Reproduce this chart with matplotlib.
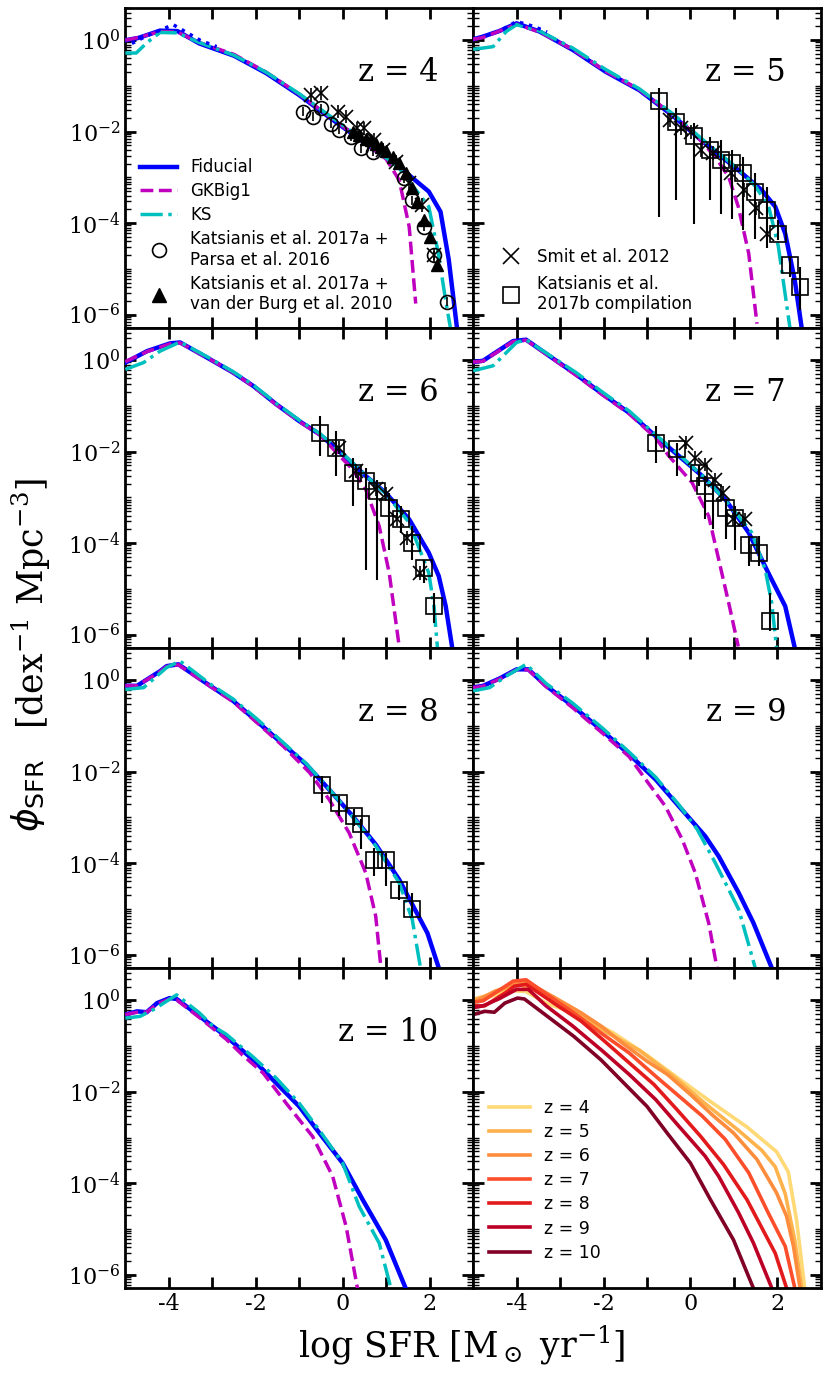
import numpy as np
import matplotlib
matplotlib.use("Agg")
import matplotlib.pyplot as plt
from matplotlib.lines import Line2D
from matplotlib.ticker import FixedLocator, LogFormatterMathtext, NullFormatter, FormatStrFormatter

plt.rcParams['font.family'] = 'DejaVu Serif'
plt.rcParams['mathtext.fontset'] = 'dejavuserif'
plt.rcParams['axes.unicode_minus'] = False

# ---- data: log10 SFR, log10 phi ----
fid4_x = [-5.0, -4.7, -4.2, -3.8, -3.3, -2.5, -1.76, -1.0, -0.23, 0.53, 1.3, 1.98, 2.25, 2.44, 2.63]
fid4_y = [0.0, 0.05, 0.21, 0.2, -0.07, -0.34, -0.72, -1.2, -1.74, -2.26, -2.77, -3.31, -3.75, -4.8, -6.3]
gk4_x = [-5.0, -4.7, -4.2, -3.8, -3.3, -2.5, -1.76, -1.0, -0.23, 0.53, 1.0, 1.3, 1.53, 1.68]
gk4_y = [0.0, 0.06, 0.19, 0.18, -0.05, -0.31, -0.70, -1.18, -1.72, -2.25, -2.6, -3.06, -4.08, -5.76]
ks4_x = [-5.0, -4.75, -4.5, -4.2, -3.8, -3.3, -2.5, -1.76, -1.0, -0.23, 0.53, 1.3, 1.98, 2.2, 2.37, 2.48]
ks4_y = [-0.28, -0.28, -0.05, 0.17, 0.16, -0.05, -0.33, -0.7, -1.17, -1.70, -2.22, -2.8, -3.64, -4.66, -5.7, -6.3]
dot4_x = [-4.85, -4.5, -3.9, -3.28, -2.9]
dot4_y = [-0.07, 0.1, 0.34, 0.0, -0.14]

fid5_x = [-5.0, -4.77, -4.4, -4.0, -3.47, -2.71, -1.95, -1.18, -0.42, 0.34, 1.1, 1.64, 1.95, 2.18, 2.4, 2.56]
fid5_y = [0.02, 0.08, 0.2, 0.37, 0.19, -0.21, -0.69, -1.09, -1.64, -2.26, -2.84, -3.28, -3.64, -4.23, -5.25, -6.3]
gk5_x = [-5.0, -4.77, -4.4, -4.0, -3.47, -2.71, -1.95, -1.18, -0.42, 0.1, 0.57, 0.88, 1.1, 1.34, 1.53]
gk5_y = [0.02, 0.06, 0.2, 0.35, 0.18, -0.2, -0.68, -1.08, -1.62, -2.05, -2.55, -2.99, -3.64, -4.66, -6.2]
ks5_x = [-5.0, -4.54, -4.24, -4.0, -3.47, -2.71, -1.95, -1.18, -0.42, 0.34, 1.1, 1.5, 1.8, 2.02, 2.2, 2.29]
ks5_y = [-0.2, -0.14, 0.19, 0.34, 0.2, -0.17, -0.64, -1.06, -1.6, -2.22, -2.82, -3.2, -3.64, -4.5, -5.7, -6.3]
dot5_x = [-4.3, -4.0, -3.6, -3.3]
dot5_y = [0.25, 0.41, 0.30, 0.18]

fid6_x = [-5.0, -4.5, -3.97, -3.74, -3.05, -2.52, -2.06, -1.53, -1.0, -0.53, 0.0, 0.53, 0.99, 1.53, 1.98, 2.21, 2.37, 2.52]
fid6_y = [-0.05, 0.2, 0.37, 0.39, 0.02, -0.27, -0.56, -0.96, -1.33, -1.62, -2.06, -2.53, -2.9, -3.48, -4.21, -4.72, -5.38, -6.29]
gk6_x = [-5.0, -4.5, -3.97, -3.74, -3.05, -2.52, -2.06, -1.53, -1.0, -0.53, 0.23, 0.53, 0.84, 1.07, 1.3]
gk6_y = [-0.03, 0.19, 0.36, 0.38, 0.02, -0.27, -0.57, -0.97, -1.34, -1.63, -2.39, -2.82, -3.63, -4.65, -6.26]
ks6_x = [-5.0, -4.58, -4.2, -3.74, -3.05, -2.52, -2.06, -1.53, -1.0, -0.53, 0.0, 0.53, 0.99, 1.53, 1.98, 2.1, 2.18]
ks6_y = [-0.2, -0.05, 0.2, 0.40, 0.04, -0.25, -0.54, -0.94, -1.31, -1.6, -2.04, -2.52, -2.92, -3.55, -4.65, -5.38, -6.29]

fid7_x = [-5.0, -4.77, -4.08, -3.78, -3.24, -2.63, -2.02, -1.41, -0.8, -0.27, 0.27, 0.8, 1.34, 1.79, 2.18, 2.4]
fid7_y = [-0.04, -0.01, 0.42, 0.45, 0.09, -0.31, -0.74, -1.15, -1.66, -2.09, -2.53, -3.04, -3.77, -4.65, -5.38, -6.29]
gk7_x = [-5.0, -4.77, -4.08, -3.78, -3.24, -2.63, -2.02, -1.41, -0.8, -0.5, 0.04, 0.42, 0.65, 0.88, 1.1]
gk7_y = [-0.04, -0.02, 0.41, 0.44, 0.08, -0.33, -0.76, -1.17, -1.70, -2.09, -2.68, -3.41, -4.36, -5.31, -6.26]
ks7_x = [-5.0, -4.54, -4.0, -3.78, -3.24, -2.63, -2.02, -1.41, -0.8, -0.27, 0.27, 0.8, 1.41, 1.72, 1.87, 1.98]
ks7_y = [-0.23, -0.12, 0.39, 0.45, 0.11, -0.27, -0.70, -1.11, -1.63, -2.06, -2.52, -3.06, -3.77, -4.58, -5.31, -6.29]

fid8_x = [-5.0, -4.73, -4.2, -4.05, -3.78, -3.05, -2.52, -1.98, -1.37, -0.84, -0.31, 0.23, 0.76, 1.3, 1.95, 2.21]
fid8_y = [-0.12, -0.12, 0.2, 0.31, 0.35, -0.12, -0.45, -0.89, -1.40, -1.84, -2.39, -2.97, -3.59, -4.36, -5.53, -6.29]
gk8_x = [-5.0, -4.73, -4.2, -4.05, -3.78, -3.05, -2.52, -1.98, -1.37, -0.76, -0.31, 0.15, 0.53, 0.76, 0.88]
gk8_y = [-0.12, -0.12, 0.19, 0.30, 0.34, -0.13, -0.47, -0.92, -1.44, -2.02, -2.61, -3.34, -4.21, -5.16, -6.29]
ks8_x = [-5.0, -4.58, -4.05, -3.74, -3.05, -2.52, -1.98, -1.37, -0.84, -0.31, 0.23, 0.76, 1.3, 1.6, 1.79]
ks8_y = [-0.2, -0.16, 0.28, 0.42, -0.08, -0.41, -0.84, -1.36, -1.82, -2.38, -2.98, -3.62, -4.43, -5.23, -6.29]

fid9_x = [-5.0, -4.77, -4.39, -4.0, -3.73, -3.32, -2.71, -2.02, -1.41, -0.8, -0.27, 0.34, 0.65, 1.11, 1.45, 1.87]
fid9_y = [-0.16, -0.12, 0.04, 0.24, 0.24, -0.12, -0.56, -1.11, -1.62, -2.17, -2.75, -3.41, -3.85, -4.65, -5.31, -6.29]
gk9_x = [-5.0, -4.77, -4.39, -4.0, -3.73, -3.32, -2.71, -2.02, -1.41, -1.03, -0.58, -0.19, 0.11, 0.42, 0.61]
gk9_y = [-0.16, -0.13, 0.03, 0.23, 0.23, -0.14, -0.60, -1.16, -1.67, -2.17, -2.75, -3.48, -4.21, -5.31, -6.29]
ks9_x = [-5.0, -4.62, -4.24, -3.78, -3.32, -2.71, -2.02, -1.41, -0.8, -0.27, 0.15, 0.57, 1.11, 1.49]
ks9_y = [-0.23, -0.16, 0.09, 0.35, -0.07, -0.50, -1.05, -1.57, -2.12, -2.72, -3.25, -3.99, -5.01, -6.29]

fid10_x = [-5.0, -4.73, -4.51, -4.27, -3.98, -3.82, -3.29, -2.68, -2.06, -1.53, -1.0, -0.53, 0.0, 0.46, 0.99, 1.45]
fid10_y = [-0.31, -0.24, -0.26, -0.06, 0.05, 0.03, -0.35, -0.79, -1.30, -1.81, -2.32, -2.91, -3.56, -4.36, -5.24, -6.30]
gk10_x = [-5.0, -4.73, -4.51, -4.27, -3.98, -3.82, -3.29, -2.68, -2.3, -1.83, -1.3, -0.69, -0.23, 0.08, 0.34]
gk10_y = [-0.31, -0.26, -0.26, -0.08, 0.03, 0.01, -0.38, -0.85, -1.2, -1.59, -2.25, -2.98, -3.85, -4.95, -6.30]
ks10_x = [-5.0, -4.66, -4.35, -3.82, -3.29, -2.98, -2.68, -2.06, -1.53, -1.0, -0.53, 0.0, 0.38, 0.84, 1.11]
ks10_y = [-0.39, -0.35, -0.2, 0.12, -0.28, -0.57, -0.74, -1.24, -1.70, -2.25, -2.85, -3.56, -4.51, -5.31, -6.30]

# observations
circ4_x = [-0.92, -0.69, -0.50, -0.27, -0.08, 0.19, 0.42, 0.69, 1.41, 1.60, 1.87, 2.10, 2.40]
circ4_y = [-1.56, -1.67, -1.49, -1.83, -1.96, -2.11, -2.36, -2.44, -3.02, -3.50, -4.08, -4.70, -5.72]
tri4_x = [0.23, 0.38, 0.53, 0.65, 0.76, 0.88, 0.99, 1.15, 1.30, 1.45, 1.60, 1.72, 1.87, 2.02, 2.18]
tri4_y = [-2.0, -2.07, -2.15, -2.18, -2.26, -2.33, -2.42, -2.55, -2.69, -2.91, -3.24, -3.53, -3.93, -4.30, -4.92]
cross4_x = [-0.73, -0.50, -0.11, 0.08, 0.34, 0.50, 0.73, 0.92, 1.22, 1.53, 1.83, 2.10]
cross4_y = [-1.20, -1.16, -1.56, -1.67, -1.93, -1.93, -2.18, -2.40, -2.66, -3.13, -3.61, -4.70]

cross5_x = [-0.48, -0.21, 0.02, 0.25, 0.51, 0.93, 1.24, 1.50, 1.77]
cross5_y = [-1.74, -1.93, -2.00, -2.40, -2.47, -2.91, -3.28, -3.68, -4.23]
sq5_x = [-0.73, -0.33, 0.08, 0.46, 0.71, 0.95, 1.22, 1.49, 1.76, 2.02, 2.29, 2.52]
sq5_y = [-1.34, -1.78, -2.09, -2.40, -2.61, -2.69, -2.90, -3.31, -3.72, -4.23, -4.92, -5.39]
sq5_hi = [-1.05, -1.49, -1.82, -2.11, -2.18, -2.40, -2.55, -2.91, -3.20, -3.93, -4.74, -4.96]
sq5_lo = [-3.86, -3.50, -4.01, -3.50, -3.79, -3.90, -4.15, -4.34, -4.55, -4.37, -5.17, -5.90]

cross6_x = [-0.08, 0.31, 0.76, 0.99, 1.26, 1.49, 1.79]
cross6_y = [-1.91, -2.42, -2.82, -2.93, -3.48, -3.88, -4.65]
sq6_x = [-0.53, -0.15, 0.23, 0.53, 0.80, 1.07, 1.34, 1.60, 1.87, 2.10]
sq6_y = [-1.58, -1.91, -2.46, -2.64, -2.86, -3.23, -3.48, -3.99, -4.54, -5.38]
sq6_hi = [-1.22, -1.55, -2.13, -2.35, -2.61, -2.90, -3.19, -3.63, -4.36, -5.09]
sq6_lo = [-2.09, -2.53, -3.19, -4.58, -4.80, -4.14, -3.77, -4.36, -4.87, -5.74]

cross7_x = [-0.11, 0.11, 0.34, 0.57, 0.76, 0.99, 1.26]
cross7_y = [-1.80, -2.13, -2.28, -2.61, -2.90, -3.48, -3.48]
sq7_x = [-0.79, -0.31, 0.19, 0.34, 0.53, 0.82, 1.03, 1.34, 1.58, 1.83]
sq7_y = [-1.80, -1.95, -2.46, -2.75, -2.90, -3.23, -3.45, -4.04, -4.21, -5.71]
sq7_hi = [-1.44, -1.80, -2.28, -2.53, -2.68, -3.04, -3.19, -3.85, -3.85, -5.09]
sq7_lo = [-2.24, -2.53, -2.75, -3.48, -3.70, -3.92, -4.14, -4.50, -4.50, -5.93]

sq8_x = [-0.47, -0.08, 0.27, 0.42, 0.73, 0.99, 1.30, 1.60]
sq8_y = [-2.28, -2.68, -2.97, -3.15, -3.92, -3.92, -4.58, -5.01]
sq8_hi = [-2.09, -2.53, -2.82, -3.04, -3.66, -3.77, -4.47, -4.65]
sq8_lo = [-2.68, -2.97, -3.19, -3.70, -4.28, -4.50, -4.80, -5.16]

redshifts = [4, 5, 6, 7, 8, 9, 10]
z_colors = ['#fed976', '#feb24c', '#fd8d3c', '#fc4e2a', '#e31a1c', '#bd0026', '#800026']

fid = {4: (fid4_x, fid4_y), 5: (fid5_x, fid5_y), 6: (fid6_x, fid6_y), 7: (fid7_x, fid7_y),
       8: (fid8_x, fid8_y), 9: (fid9_x, fid9_y), 10: (fid10_x, fid10_y)}
gk = {4: (gk4_x, gk4_y), 5: (gk5_x, gk5_y), 6: (gk6_x, gk6_y), 7: (gk7_x, gk7_y),
      8: (gk8_x, gk8_y), 9: (gk9_x, gk9_y), 10: (gk10_x, gk10_y)}
ks = {4: (ks4_x, ks4_y), 5: (ks5_x, ks5_y), 6: (ks6_x, ks6_y), 7: (ks7_x, ks7_y),
      8: (ks8_x, ks8_y), 9: (ks9_x, ks9_y), 10: (ks10_x, ks10_y)}
dotted = {4: (dot4_x, dot4_y), 5: (dot5_x, dot5_y)}
squares = {5: (sq5_x, sq5_y, sq5_lo, sq5_hi), 6: (sq6_x, sq6_y, sq6_lo, sq6_hi),
           7: (sq7_x, sq7_y, sq7_lo, sq7_hi), 8: (sq8_x, sq8_y, sq8_lo, sq8_hi)}
crosses = {4: (cross4_x, cross4_y), 5: (cross5_x, cross5_y), 6: (cross6_x, cross6_y),
           7: (cross7_x, cross7_y)}


def p(v):
    return 10.0 ** np.asarray(v)


def logerr(y, lo, hi):
    y, lo, hi = p(y), p(lo), p(hi)
    return [y - lo, hi - y]


fig, axes = plt.subplots(4, 2, figsize=(8.3, 13.78), dpi=100, sharex=True, sharey=True)
fig.subplots_adjust(left=0.151, right=0.989, top=0.994, bottom=0.065, wspace=0, hspace=0)
axl = axes.flatten()

for i, z in enumerate(redshifts):
    ax = axl[i]
    fx, fy = fid[z]
    gx, gy = gk[z]
    kx, ky = ks[z]
    ax.plot(fx, p(fy), color='b', lw=3.2, zorder=3)
    ax.plot(gx, p(gy), color='m', lw=2.5, ls='--', zorder=3)
    ax.plot(kx, p(ky), color='c', lw=2.5, ls='-.', zorder=3)
    if z in dotted:
        dx, dy = dotted[z]
        ax.plot(dx, p(dy), color='b', lw=2.5, ls=':', zorder=3)
    if z in squares:
        sx, sy, slo, shi = squares[z]
        ax.errorbar(sx, p(sy), yerr=logerr(sy, slo, shi), fmt='s', ms=11, mfc='none',
                    mec='k', mew=1.2, ecolor='k', elinewidth=1.5, capsize=0, zorder=4)
    if z in crosses:
        cx, cy = crosses[z]
        cy = np.asarray(cy)
        ax.errorbar(cx, p(cy), yerr=logerr(cy, cy - 0.15, cy + 0.15), fmt='x', ms=10,
                    mec='k', mew=1.2, ecolor='k', elinewidth=1.2, capsize=0, zorder=4)
    if z == 4:
        cy = np.asarray(circ4_y)
        ax.errorbar(circ4_x, p(cy), yerr=logerr(cy, cy - 0.1, cy + 0.1), fmt='o', ms=10,
                    mfc='none', mec='k', mew=1.2, ecolor='k', elinewidth=1.2, capsize=0, zorder=4)
        ax.plot(tri4_x, p(tri4_y), '^', color='k', ms=9, ls='none', zorder=5)
    ax.text(0.9, 0.8, 'z = %d' % z, transform=ax.transAxes, ha='right', va='center', fontsize=22)

# comparison of fiducial runs
axc = axl[7]
for z, col in zip(redshifts, z_colors):
    fx, fy = fid[z]
    axc.plot(fx, p(fy), color=col, lw=2.6, label='z = %d' % z)
axc.legend(loc='lower left', frameon=False, handlelength=2.4, labelspacing=0.35,
           prop={'family': 'DejaVu Sans', 'size': 12.5}, bbox_to_anchor=(0.0, 0.035))

# legends for models / data
model_handles = [
    Line2D([], [], color='b', lw=3.2),
    Line2D([], [], color='m', lw=2.5, ls='--'),
    Line2D([], [], color='c', lw=2.5, ls='-.'),
    Line2D([], [], marker='o', ls='none', mfc='none', mec='k', ms=10, mew=1.2),
    Line2D([], [], marker='^', ls='none', color='k', ms=10),
]
model_labels = ['Fiducial', 'GKBig1', 'KS', 'Katsianis et al. 2017a +\nParsa et al. 2016',
                'Katsianis et al. 2017a +\nvan der Burg et al. 2010']
axl[0].legend(model_handles, model_labels, loc='lower left', frameon=False,
              prop={'family': 'DejaVu Sans', 'size': 12}, handlelength=2.2,
              labelspacing=0.35, bbox_to_anchor=(0.0, 0.0))

obs_handles = [
    Line2D([], [], marker='x', ls='none', color='k', ms=11, mew=1.2),
    Line2D([], [], marker='s', ls='none', mfc='none', mec='k', ms=11, mew=1.2),
]
obs_labels = ['Smit et al. 2012', 'Katsianis et al.\n2017b compilation']
axl[1].legend(obs_handles, obs_labels, loc='lower left', frameon=False,
              prop={'family': 'DejaVu Sans', 'size': 12}, handlelength=1.5,
              labelspacing=0.5, bbox_to_anchor=(0.03, 0.0))

ymajor = [1e-6, 1e-4, 1e-2, 1.0]
yminor = [m * 10.0 ** e for e in range(-7, 1) for m in range(1, 10)
          if 5e-7 <= m * 10.0 ** e <= 5 and m * 10.0 ** e not in ymajor]
for ax in axl:
    ax.set_yscale('log')
    ax.set_xlim(-5, 3)
    ax.set_ylim(5e-7, 5)
    ax.yaxis.set_major_locator(FixedLocator(ymajor))
    ax.yaxis.set_major_formatter(LogFormatterMathtext())
    ax.yaxis.set_minor_locator(FixedLocator(yminor))
    ax.yaxis.set_minor_formatter(NullFormatter())
    ax.xaxis.set_major_locator(FixedLocator([-4, -2, 0, 2]))
    ax.xaxis.set_major_formatter(FormatStrFormatter('%d'))
    ax.xaxis.set_minor_locator(FixedLocator([-3, -1, 1]))
    ax.tick_params(which='both', direction='in', top=True, right=True, labelsize=16)
    ax.tick_params(which='major', length=8, width=2)
    ax.tick_params(which='minor', length=4, width=1)
    ax.tick_params(axis='x', which='minor', length=8, width=2)
    for s in ax.spines.values():
        s.set_linewidth(2)

fig.text(0.556, 0.024, r'log SFR [M$_\odot$ yr$^{-1}$]', ha='center', va='center', fontsize=25)
fig.text(0.034, 0.423, r'$\phi_{\mathsf{SFR}}$', rotation=90, ha='center', va='center',
         fontsize=26, math_fontfamily='dejavusans')
fig.text(0.038, 0.562, r'[dex$^{-1}$ Mpc$^{-3}$]', rotation=90, ha='center', va='center', fontsize=25)

fig.savefig('out.png', dpi=100)
